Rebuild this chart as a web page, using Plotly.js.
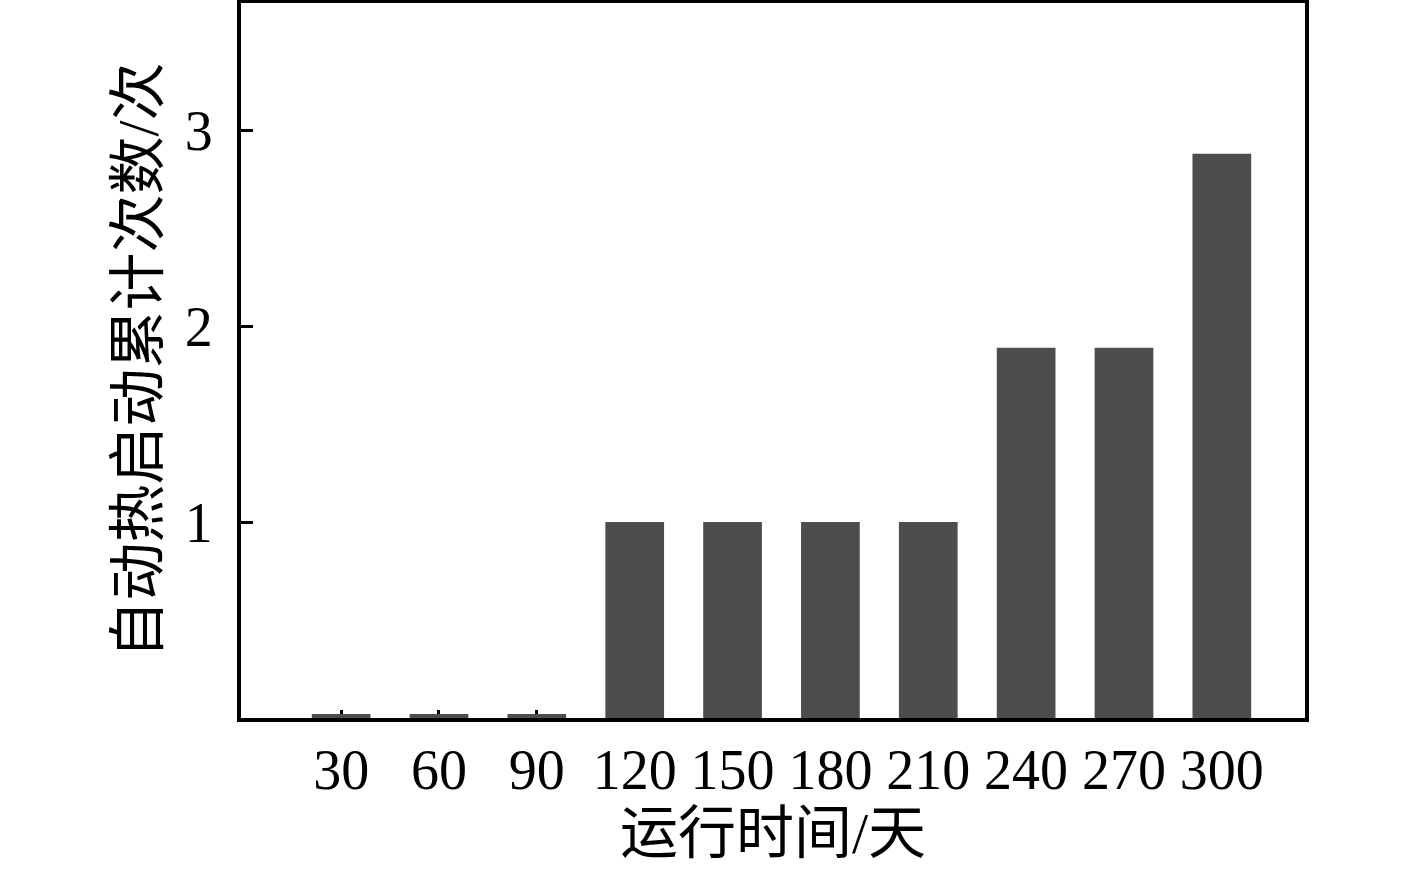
<!DOCTYPE html>
<html>
<head>
<meta charset="utf-8">
<script src="https://cdn.plot.ly/plotly-3.0.1.min.js"></script>
<style>
  body { margin: 0; background: #fff; }
  #chart { width: 1417px; height: 874px; }
</style>
</head>
<body>
<div id="chart"></div>
<script>
// running time (days) and cumulative auto hot-start count
var days = [30, 60, 90, 120, 150, 180, 210, 240, 270, 300]
var starts = [0.02, 0.02, 0.02, 1, 1, 1, 1, 1.89, 1.89, 2.88]
var yTicks = [1, 2, 3]

var fontFam = '"Liberation Serif", "Times New Roman", "Noto Sans CJK SC", serif'

var trace = {
    type: 'bar',
    x: days,
    y: starts,
    width: 18,
    marker: { color: '#4d4d4d', line: { width: 0 } },
    hoverinfo: 'x+y'
}

var layout = {
    width: 1417,
    height: 874,
    margin: { l: 241, r: 112, t: 3, b: 156 },
    paper_bgcolor: '#fff',
    plot_bgcolor: '#fff',
    showlegend: false,
    font: { family: fontFam, color: '#000', size: 56 },
    xaxis: {
        range: [-0.7, 325.5],
        tickvals: days,
        ticktext: days.map(String),
        ticks: 'inside',
        ticklen: 8,
        tickwidth: 3,
        tickcolor: '#000',
        showline: true,
        linecolor: '#000',
        linewidth: 4,
        mirror: true,
        showgrid: false,
        zeroline: false,
        layer: 'below traces',
        ticklabelstandoff: 0,
        tickfont: { family: fontFam, size: 56, color: '#000' },
        title: { text: '运行时间/天', standoff: 12, font: { family: fontFam, size: 58, color: '#000' } }
    },
    yaxis: {
        range: [0, 3.65],
        tickvals: yTicks,
        ticks: 'inside',
        ticklen: 12,
        tickwidth: 3,
        tickcolor: '#000',
        showline: true,
        linecolor: '#000',
        linewidth: 4,
        mirror: true,
        showgrid: false,
        zeroline: false,
        ticklabelstandoff: 13,
        tickfont: { family: fontFam, size: 56, color: '#000' },
        title: { text: '自动热启动累计次数/次', standoff: 8, font: { family: fontFam, size: 58, color: '#000' } }
    }
}

Plotly.newPlot('chart', [trace], layout, { displayModeBar: false, staticPlot: true })
</script>
</body>
</html>
